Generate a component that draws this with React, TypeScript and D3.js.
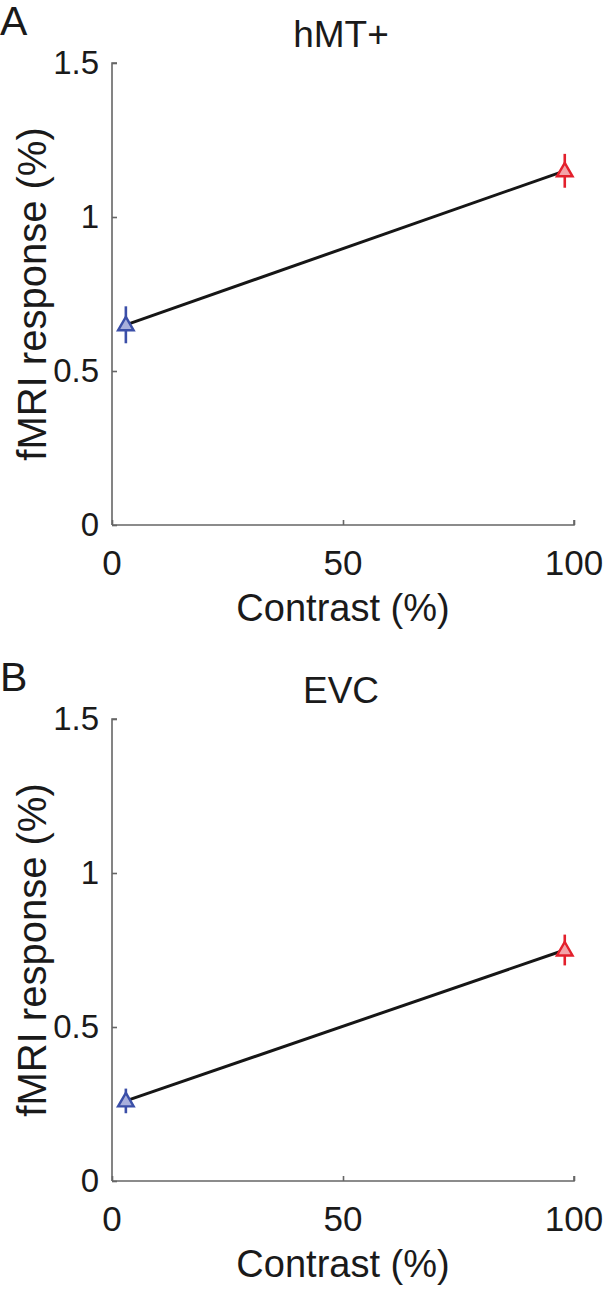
import React, { useEffect, useRef } from 'react';
import * as d3 from 'd3';

// data
const contrast = [3, 98];
const panelLabels = ['A', 'B'];
const panelTitles = ['hMT+', 'EVC'];
const responseMean = [
    [0.65, 1.15],
    [0.26, 0.75]
];
const responseErr = [
    [0.06, 0.055],
    [0.04, 0.05]
];
const pointColors = ['#3b4fa8', '#e3202c'];
const pointFills = ['#a9b0dc', '#f3a3a8'];
const xTicks = [0, 50, 100];
const yTicks = [0, 0.5, 1, 1.5];

const W = 604, H = 1290;
const margin = { left: 112, right: 30, top: 63, bottom: 131 };
const panelH = 656;
const FONT = 'Liberation Sans, Arial, Helvetica, sans-serif';

const drawPanel = (root, idx) => {
    const g = root.append('g').attr('transform', `translate(0, ${idx * panelH})`);
    const x = d3.scaleLinear().domain([0, 100]).range([margin.left, W - margin.right]);
    const y = d3.scaleLinear().domain([0, 1.5]).range([panelH - margin.bottom, margin.top]);

    const axisColor = '#666';

    // y axis, ticks pointing inward
    const yAx = g.append('g')
        .attr('transform', `translate(${x(0)},0)`)
        .call(d3.axisRight(y).tickValues(yTicks).tickSize(5).tickFormat(() => ''));
    yAx.select('.domain').attr('stroke', axisColor).attr('stroke-width', 1.6)
        .attr('d', `M5,${y(1.5)}H0V${y(0)}`);
    yAx.selectAll('.tick line').attr('stroke', axisColor).attr('stroke-width', 1.6);

    g.selectAll('text.ytick')
        .data(yTicks)
        .enter()
        .append('text')
        .attr('class', 'ytick')
        .attr('x', x(0) - 13)
        .attr('y', d => y(d) + 11)
        .attr('text-anchor', 'end')
        .attr('font-size', 33)
        .attr('font-family', FONT)
        .attr('fill', '#1a1a1a')
        .text(d => d3.format('~g')(d));

    // x axis
    const xAx = g.append('g')
        .attr('transform', `translate(0,${y(0)})`)
        .call(d3.axisTop(x).tickValues(xTicks).tickSize(5).tickFormat(() => ''));
    xAx.select('.domain').attr('stroke', axisColor).attr('stroke-width', 1.6)
        .attr('d', `M${x(0)},0H${x(100)}V-5`);
    xAx.selectAll('.tick line').attr('stroke', axisColor).attr('stroke-width', 1.6);

    g.selectAll('text.xtick')
        .data(xTicks)
        .enter()
        .append('text')
        .attr('class', 'xtick')
        .attr('x', d => x(d))
        .attr('y', y(0) + 50)
        .attr('text-anchor', 'middle')
        .attr('font-size', 35)
        .attr('font-family', FONT)
        .attr('fill', '#1a1a1a')
        .text(d => d);

    g.append('text')
        .attr('x', (x(0) + x(100)) / 2)
        .attr('y', y(0) + 96)
        .attr('text-anchor', 'middle')
        .attr('font-size', 38)
        .attr('font-family', FONT)
        .attr('fill', '#1a1a1a')
        .text('Contrast (%)');

    g.append('text')
        .attr('transform', `translate(46, ${(y(0) + y(1.5)) / 2}) rotate(-90)`)
        .attr('text-anchor', 'middle')
        .attr('font-size', 40)
        .attr('font-family', FONT)
        .attr('fill', '#1a1a1a')
        .text('fMRI response (%)');

    g.append('text')
        .attr('x', (x(0) + x(100)) / 2 - 2)
        .attr('y', 47)
        .attr('text-anchor', 'middle')
        .attr('font-size', 37)
        .attr('font-family', FONT)
        .attr('fill', '#1a1a1a')
        .text(panelTitles[idx]);

    g.append('text')
        .attr('x', 0)
        .attr('y', 35)
        .attr('font-size', 41)
        .attr('font-family', FONT)
        .attr('fill', '#1a1a1a')
        .text(panelLabels[idx]);

    const pts = contrast.map((c, i) => ({ c, m: responseMean[idx][i], e: responseErr[idx][i], i }));

    const line = d3.line().x(d => x(d.c)).y(d => y(d.m));
    g.append('path')
        .datum(pts)
        .attr('d', line)
        .attr('fill', 'none')
        .attr('stroke', '#161616')
        .attr('stroke-width', 3);

    // error bars
    g.selectAll('line.err')
        .data(pts)
        .enter()
        .append('line')
        .attr('class', 'err')
        .attr('x1', d => x(d.c))
        .attr('x2', d => x(d.c))
        .attr('y1', d => y(d.m + d.e))
        .attr('y2', d => y(d.m - d.e))
        .attr('stroke', d => pointColors[d.i])
        .attr('stroke-width', 2.6);

    const tri = d3.symbol().type(d3.symbolTriangle).size(105);
    g.selectAll('path.pt')
        .data(pts)
        .enter()
        .append('path')
        .attr('class', 'pt')
        .attr('transform', d => `translate(${x(d.c)},${y(d.m) + 1})`)
        .attr('d', tri)
        .attr('fill', d => pointFills[d.i])
        .attr('stroke', d => pointColors[d.i])
        .attr('stroke-width', 2.4)
        .attr('stroke-linejoin', 'miter');
};

const App = () => {
    const ref = useRef(null);

    useEffect(() => {
        const svg = d3.select(ref.current);
        svg.selectAll('*').remove();
        panelLabels.forEach((_, i) => drawPanel(svg, i));
    }, []);

    return (
        <svg ref={ref} width={W} height={H}
            style={{ position: 'absolute', left: 0, top: 0, background: '#fff' }} />
    );
};

export default App;
